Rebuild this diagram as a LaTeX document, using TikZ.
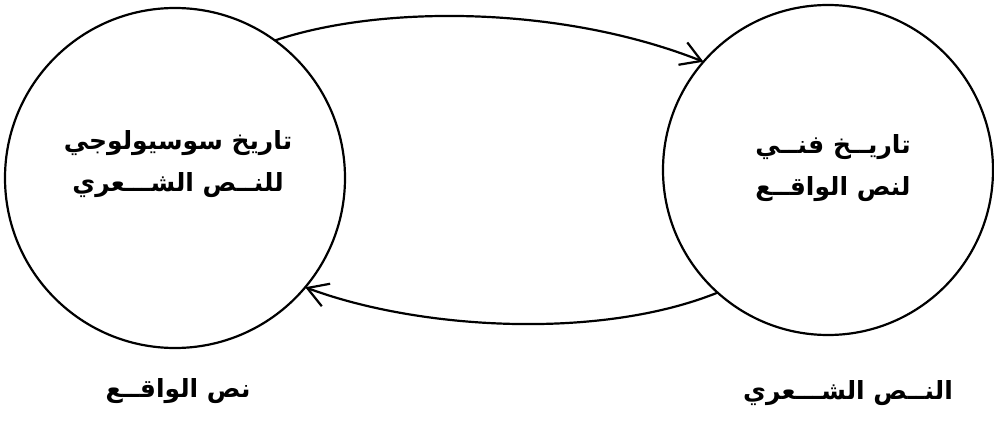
\documentclass[tikz,border=0pt]{standalone}
\usepackage{fontspec}
\newfontfamily\arabicfont[Script=Arabic]{DejaVu Sans}
\TeXXeTstate=1
\usetikzlibrary{arrows.meta}
\tikzset{
  ring/.style={circle, draw, line width=2.2pt, inner sep=0pt, outer sep=0pt},
  artext/.style={font=\arabicfont\bfseries\fontsize{25}{42}\selectfont, align=center, inner sep=0pt},
  flow/.style={line width=2.2pt, -{Straight Barb[length=20pt,width=24pt]}}
}
\begin{document}
\begin{tikzpicture}[x=1pt,y=-1pt]
\useasboundingbox (0,0) rectangle (994,422);
\node[ring, minimum size=340pt] (L) at (175,178) {};
\node[ring, minimum size=330pt] (R) at (828,170) {};
\node[artext] (Lt) at (178,164) {\beginR تاريخ سوسيولوجي\endR\\\beginR للنــص الشـــعري\endR};
\node[artext] (Rt) at (833,168) {\beginR تاريــخ فنــي\endR\\\beginR لنص الواقــع\endR};
\node[artext] (Ll) at (178,391) {\beginR نص الواقــع\endR};
\node[artext] (Rl) at (848,393) {\beginR النــص الشـــعري\endR};
\draw[flow] (L.54) .. controls (380,5) and (560,5) .. (R.139);
\draw[flow] (R.228) .. controls (600,340) and (420,330) .. (L.320);
\end{tikzpicture}
\end{document}
